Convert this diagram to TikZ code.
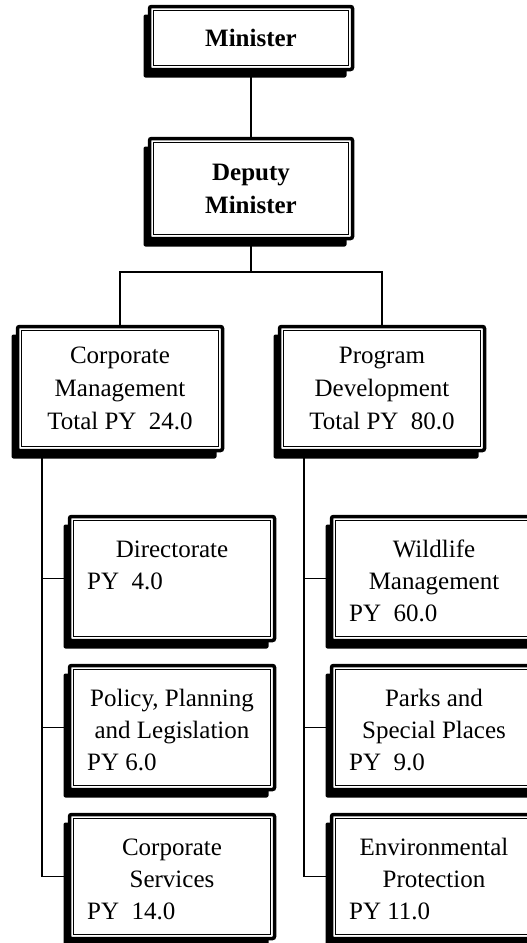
\documentclass[tikz,border=0pt]{standalone}
\usepackage{fontspec}
\setmainfont{Liberation Serif}
\usetikzlibrary{shadows}
\tikzset{
  obox/.style={draw, line width=3.5pt, rounded corners=2pt, fill=white,
    drop shadow={shadow xshift=-6pt, shadow yshift=-8pt, opacity=1, fill=black},
    inner sep=0pt, align=center, font=\fontsize{25}{33}\selectfont},
  topbox/.style={obox, minimum width=203pt},
  unitbox/.style={obox, minimum width=205pt, minimum height=124pt},
  txt/.style={inner sep=0pt, font=\fontsize{25}{33}\selectfont},
  conn/.style={line width=1.2pt},
  innerline/.style={line width=0.9pt}
}
\begin{document}
\begin{tikzpicture}[x=1pt,y=-1pt]
\path[use as bounding box, clip] (0,0) rectangle (527,943);
\fill[white] (0,0) rectangle (527,943);

% connector junctions
\coordinate (jn) at (251,272);
\coordinate (ls) at (42,452);
\coordinate (rs) at (304,452);

% boxes
\node[topbox, minimum height=63pt] (min) at (251,38) {\textbf{Minister}};
\node[topbox, minimum height=100pt] (dep) at (251,188.5) {\textbf{Deputy}\\\textbf{Minister}};
\node[unitbox] (cm) at (120,388.5) {Corporate\\Management\\Total PY\ \ 24.0};
\node[unitbox] (pd) at (382,388.5) {Program\\Development\\Total PY\ \ 80.0};

\node[unitbox] (dir) at (172,578.5) {};
\node[unitbox] (pol) at (172,727.5) {};
\node[unitbox] (cs)  at (172,876.5) {};
\node[unitbox] (wl)  at (434,578.5) {};
\node[unitbox] (pk)  at (434,727.5) {};
\node[unitbox] (ep)  at (434,876.5) {};

% inner thin frames
\foreach \n in {min,dep,cm,pd,dir,pol,cs,wl,pk,ep}
  \draw[innerline] ([shift={(5.5pt,-5.5pt)}]\n.north west) rectangle ([shift={(-5.5pt,5.5pt)}]\n.south east);

% texts of the unit boxes
\node[txt, anchor=base] (dirA) at ([yshift=21.5pt]dir.center) {Directorate};
\node[txt, anchor=base west] (dirB) at ([xshift=-85pt,yshift=-10.5pt]dir.center) {PY\ \ 4.0};

\node[txt, anchor=base] (polA) at ([yshift=21.5pt]pol.center) {Policy, Planning};
\node[txt, anchor=base] (polB) at ([yshift=-10.5pt]pol.center) {and Legislation};
\node[txt, anchor=base west] (polC) at ([xshift=-85pt,yshift=-42.5pt]pol.center) {PY 6.0};

\node[txt, anchor=base] (csA) at ([yshift=21.5pt]cs.center) {Corporate};
\node[txt, anchor=base] (csB) at ([yshift=-10.5pt]cs.center) {Services};
\node[txt, anchor=base west] (csC) at ([xshift=-85pt,yshift=-42.5pt]cs.center) {PY\ \ 14.0};

\node[txt, anchor=base] (wlA) at ([yshift=21.5pt]wl.center) {Wildlife};
\node[txt, anchor=base] (wlB) at ([yshift=-10.5pt]wl.center) {Management};
\node[txt, anchor=base west] (wlC) at ([xshift=-85pt,yshift=-42.5pt]wl.center) {PY\ \ 60.0};

\node[txt, anchor=base] (pkA) at ([yshift=21.5pt]pk.center) {Parks and};
\node[txt, anchor=base] (pkB) at ([yshift=-10.5pt]pk.center) {Special Places};
\node[txt, anchor=base west] (pkC) at ([xshift=-85pt,yshift=-42.5pt]pk.center) {PY\ \ 9.0};

\node[txt, anchor=base] (epA) at ([yshift=21.5pt]ep.center) {Environmental};
\node[txt, anchor=base] (epB) at ([yshift=-10.5pt]ep.center) {Protection};
\node[txt, anchor=base west] (epC) at ([xshift=-85pt,yshift=-42.5pt]ep.center) {PY 11.0};

% connectors
\draw[conn] (min.south) -- (dep.north);
\draw[conn] (dep.south) -- (jn);
\draw[conn] (cm.north) |- (jn) -| (pd.north);

\draw[conn] (ls) |- (cs.west);
\draw[conn] (ls |- dir.west) -- (dir.west);
\draw[conn] (ls |- pol.west) -- (pol.west);

\draw[conn] (rs) |- (ep.west);
\draw[conn] (rs |- wl.west) -- (wl.west);
\draw[conn] (rs |- pk.west) -- (pk.west);
\end{tikzpicture}
\end{document}
